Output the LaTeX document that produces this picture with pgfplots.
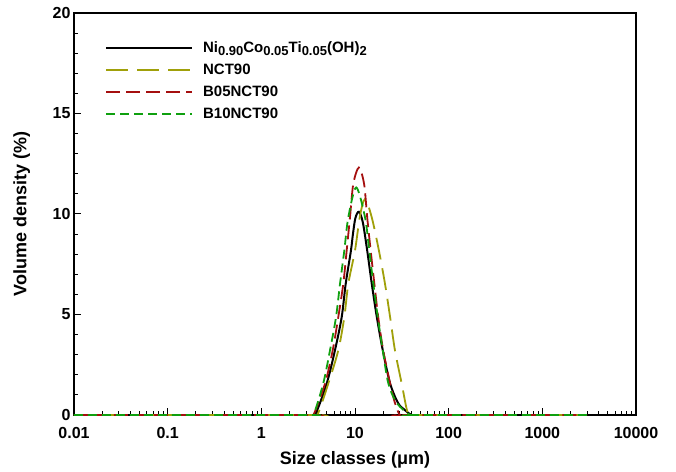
\documentclass[border=0pt]{standalone}
\usepackage{fontspec}
\setmainfont{Liberation Sans}
\usepackage{pgfplots}
\pgfplotsset{compat=1.18}
\definecolor{colOlive}{RGB}{160,160,10}
\definecolor{colRed}{RGB}{165,15,15}
\definecolor{colGreen}{RGB}{15,160,15}
\newcommand{\sub}[1]{\raisebox{-0.4ex}{\fontsize{13}{15}\selectfont #1}}
\begin{document}
\begin{tikzpicture}
\begin{axis}[
  name=ax,
  scale only axis,
  width=562pt, height=402pt,
  xmode=log,
  xmin=0.01, xmax=10000,
  ymin=0, ymax=20,
  xtick={0.01,0.1,1,10,100,1000,10000},
  xticklabels={0.01,0.1,1,10,100,1000,10000},
  ytick={0,5,10,15,20},
  minor y tick num=4,
  tick align=inside,
  xtick pos=bottom, ytick pos=left,
  major tick length=7pt, minor tick length=4pt,
  every tick/.style={black, line width=1pt},
  axis line style={line width=1.6pt},
  /pgf/number format/assume math mode=true,
  tick label style={font=\fontsize{16}{18}\selectfont\bfseries},
  xticklabel style={yshift=-9pt},
  xlabel={Size classes (μm)},
  ylabel={Volume density (\%)},
  label style={font=\fontsize{18}{20}\selectfont\bfseries},
  xlabel style={at={(axis description cs:0.5,-0.112)}, anchor=center},
  ylabel style={at={(axis description cs:-0.093,0.5)}, anchor=center},
  legend style={at={(axis description cs:0.055,0.935)}, anchor=north west, draw=none, fill=none,
    font=\fontsize{15}{17}\selectfont\bfseries, row sep=6pt, column sep=8pt, inner sep=0pt},
  legend cell align=left,
  legend image code/.code={\draw[#1, line width=2pt] (0pt,0pt) -- (86pt,0pt);},
  every axis plot/.append style={line width=1.8pt, smooth, tension=0.5},
]
\addplot[black, solid, line width=2pt] coordinates {
 (0.01,0) (3.2,0) (3.74,0) (4.99,1.57) (6.11,3.22) (7.21,4.87) (7.96,6.53) (9.05,8.18) (9.51,9.01) (10.1,9.8) (11.0,10.11) (12.1,9.6) (13.5,8.18) (15.1,6.53) (17.1,4.87) (19.8,3.22) (23.7,1.57) (28.8,0.6) (34,0.25) (40.3,0) (48,0) (10000,0)};
\addlegendentry{Ni\sub{0.90}Co\sub{0.05}Ti\sub{0.05}(OH)\sub{2}}
\addplot[colOlive, dash pattern=on 22pt off 9pt] coordinates {
 (0.01,0) (3.4,0) (3.96,0) (5.19,1.57) (6.63,3.22) (7.69,4.87) (8.48,6.53) (10.0,8.18) (11.3,9.9) (12.8,10.74) (15.1,9.83) (18.0,8.18) (20.9,6.53) (23.7,4.87) (26.7,3.22) (31.5,1.57) (37.1,0) (44,0) (3000,0)};
\addlegendentry{NCT90}
\addplot[colRed, dash pattern=on 14pt off 6pt] coordinates {
 (0.01,0) (3.1,0) (3.59,0) (4.79,1.57) (5.78,3.22) (6.63,4.87) (7.50,6.53) (8.15,8.18) (8.84,9.83) (9.59,11.5) (11.0,12.31) (12.5,11.5) (13.5,9.83) (14.7,8.18) (16.1,6.53) (17.7,4.87) (20.0,3.22) (23.7,1.57) (26.7,0.6) (30.2,0) (36,0) (3000,0)};
\addlegendentry{B05NCT90}
\addplot[colGreen, dash pattern=on 9pt off 5pt] coordinates {
 (0.01,0) (3.1,0) (3.59,0) (4.58,1.57) (5.41,3.22) (6.27,4.87) (6.92,6.53) (7.69,8.18) (8.48,9.83) (10.3,11.32) (12.8,9.83) (14.2,8.18) (15.7,6.53) (17.5,4.87) (19.8,3.22) (22.7,1.57) (27.9,0.6) (38.6,0) (46,0) (3000,0)};
\addlegendentry{B10NCT90}
\end{axis}
\path ([shift={(-74pt,-55pt)}]ax.south west) rectangle ([shift={(40pt,13pt)}]ax.north east);
\end{tikzpicture}
\end{document}
